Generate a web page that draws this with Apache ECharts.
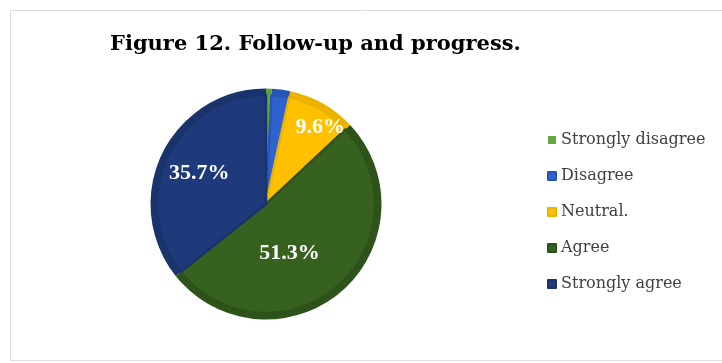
<!DOCTYPE html>
<html>
<head>
<meta charset="utf-8">
<script src="https://cdn.jsdelivr.net/npm/echarts@6/dist/echarts.min.js"></script>
<style>
  html, body { margin: 0; padding: 0; background: #ffffff; }
  #chart { width: 722px; height: 363px; }
</style>
</head>
<body>
<div id="chart"></div>
<script>
// Survey answers (percent of respondents)
const categories = ['Strongly disagree', 'Disagree', 'Neutral.', 'Agree', 'Strongly agree'];
const percents = [0.8, 2.6, 9.6, 51.3, 35.7];
const titleText = 'Figure 12. Follow-up and progress.';

// Slice styling: face colour plus a slightly darker rim
const fills   = ['#62a83a', '#2e62cf', '#ffc000', '#37611f', '#1e3a7a'];
const edges   = ['#5ea236', '#2856b8', '#ebb200', '#2d531a', '#1a336c'];
const edgeW   = [0, 2.5, 2.5, 2.5, 2.5];
const showLbl = [false, false, true, true, true];
// label nudges from the default inside position, in px
const nudge = [[0, 0], [0, 0], [26, -27], [-14, 6], [-15, -6]];

const chart = echarts.init(document.getElementById('chart'), null, { renderer: 'canvas' });

const basePie = {
  type: 'pie',
  center: [266, 204],
  startAngle: 90,
  clockwise: true,
  avoidLabelOverlap: false,
  labelLine: { show: false },
  emphasis: { disabled: true },
  silent: true
};

chart.setOption({
  backgroundColor: '#ffffff',
  animation: false,
  title: {
    text: titleText,
    left: 105,
    top: 29,
    textStyle: {
      fontFamily: 'DejaVu Serif',
      fontWeight: 'bold',
      fontSize: 21,
      color: '#000000'
    }
  },
  legend: {
    orient: 'vertical',
    left: 542,
    top: 127,
    itemWidth: 8,
    itemHeight: 8,
    itemGap: 20,
    icon: 'rect',
    data: categories,
    textStyle: {
      fontFamily: 'DejaVu Serif',
      fontSize: 16,
      lineHeight: 16,
      color: '#404040',
      padding: [0, 0, 0, 0]
    }
  },
  graphic: [{
    type: 'rect',
    shape: { x: 10.5, y: 10.5, width: 712, height: 350 },
    style: { fill: 'none', stroke: '#dedede', lineWidth: 1 },
    silent: true
  }],
  series: [
    // slice faces with value labels
    Object.assign({}, basePie, {
      name: 'faces',
      z: 3,
      radius: [0, 109],
      label: {
        position: 'inside',
        fontFamily: 'Liberation Serif',
        fontWeight: 'bold',
        fontSize: 22,
        color: '#ffffff',
        formatter: p => p.value.toFixed(1) + '%'
      },
      labelLayout: p => ({ dx: nudge[p.dataIndex][0], dy: nudge[p.dataIndex][1] }),
      data: categories.map((name, i) => ({
        name: name,
        value: percents[i],
        itemStyle: { color: fills[i], borderColor: edges[i], borderWidth: edgeW[i] },
        label: { show: showLbl[i] }
      }))
    }),
    // darker outer rim behind the faces
    Object.assign({}, basePie, {
      name: 'rim',
      z: 1,
      radius: [0, 115.5],
      label: { show: false },
      data: categories.map((name, i) => ({
        name: name,
        value: percents[i],
        itemStyle: { color: edges[i], borderWidth: 0 }
      }))
    })
  ]
});
</script>
</body>
</html>
